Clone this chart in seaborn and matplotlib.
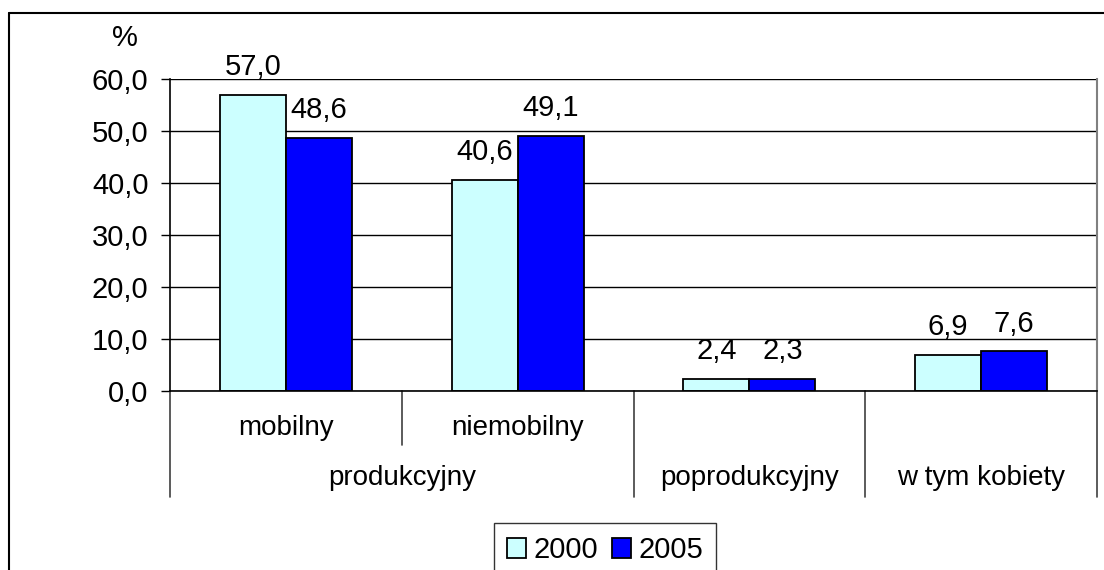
import pandas as pd
import matplotlib
matplotlib.use("Agg")
import matplotlib.pyplot as plt
import matplotlib.transforms as mtransforms
from matplotlib.lines import Line2D
from matplotlib.ticker import FuncFormatter, MultipleLocator
import seaborn as sns

# Data
categories = ["mobilny", "niemobilny", "poprodukcyjny", "w tym kobiety"]
top_labels = ["mobilny", "niemobilny", "", ""]
group_labels = ["produkcyjny", "poprodukcyjny", "w tym kobiety"]
group_spans = [(0, 1), (2, 2), (3, 3)]
years = ["2000", "2005"]
values_2000 = [57.0, 40.6, 2.4, 6.9]
values_2005 = [48.6, 49.1, 2.3, 7.6]
colors = {"2000": "#CCFFFF", "2005": "#0000FF"}

df = pd.DataFrame({
    "kategoria": categories * 2,
    "rok": ["2000"] * 4 + ["2005"] * 4,
    "wartosc": values_2000 + values_2005,
})

sns.set_theme(style="white")
plt.rcParams["font.family"] = ["Liberation Sans", "DejaVu Sans"]
plt.rcParams["text.color"] = "black"
plt.rcParams["ytick.color"] = "black"
plt.rcParams["ytick.labelcolor"] = "black"

W, H = 1104, 570
fig = plt.figure(figsize=(W / 100, H / 100), dpi=100)
ax = fig.add_axes([170 / W, 1 - 391 / H, (1097 - 170) / W, (391 - 79) / H])

sns.barplot(data=df, x="kategoria", y="wartosc", hue="rok", order=categories,
            hue_order=years, palette=colors, width=0.57, edgecolor="black",
            linewidth=1.3, saturation=1, ax=ax, legend=True)

ax.set_xlim(-0.5, 3.5)
ax.set_ylim(0, 60)
ax.yaxis.set_major_locator(MultipleLocator(10))
fmt = lambda v, pos=None: f"{v:.1f}".replace(".", ",")
ax.yaxis.set_major_formatter(FuncFormatter(fmt))
ax.tick_params(axis="y", direction="out", length=6.5, width=1, color="black",
               labelsize=21, pad=9, left=True)
ax.set_xticks([])
ax.set_xlabel("")
ax.set_ylabel("")
ax.grid(axis="y", color="black", linewidth=1)
ax.set_axisbelow(True)
for side in ["left", "bottom"]:
    ax.spines[side].set_color("black")
    ax.spines[side].set_linewidth(1.2)
ax.spines["right"].set_color("#808080")
ax.spines["right"].set_linewidth(1.5)
ax.spines["top"].set_visible(False)

for cont in ax.containers:
    ax.bar_label(cont, labels=[fmt(b.get_height()) for b in cont], padding=10,
                 fontsize=21)

# hierarchical category axis
trans = mtransforms.blended_transform_factory(ax.transData, fig.transFigure)
y_axis = 1 - 391 / H
y_short = 1 - 445 / H
y_long = 1 - 497 / H
for xb in [-0.5, 0.5, 1.5, 2.5, 3.5]:
    y_end = y_short if xb == 0.5 else y_long
    ax.add_line(Line2D([xb, xb], [y_axis, y_end], transform=trans, color="#404040",
                       linewidth=1.2, clip_on=False))
for i, lab in enumerate(top_labels):
    if lab:
        ax.text(i, 1 - 428 / H, lab, transform=trans, ha="center", va="center",
                fontsize=20)
for lab, (a, b) in zip(group_labels, group_spans):
    ax.text((a + b) / 2, 1 - 478 / H, lab, transform=trans, ha="center",
            va="center", fontsize=20)

fig.text(125 / W, 1 - 38 / H, "%", ha="center", va="center", fontsize=21)

# legend
handles, labels = ax.get_legend_handles_labels()
ax.get_legend().remove()
leg = fig.legend(handles, labels, loc="upper center", ncol=2,
                 bbox_to_anchor=(605 / W, 1 - 523 / H), frameon=True, fancybox=False,
                 fontsize=21, handlelength=0.65, handleheight=0.65, handletextpad=0.25,
                 columnspacing=0.5, borderpad=0.45, borderaxespad=0)
leg.get_frame().set_edgecolor("black")
leg.get_frame().set_linewidth(1)

# outer chart frame
fig.add_artist(Line2D([9 / W, 1.0], [1 - 13 / H, 1 - 13 / H], transform=fig.transFigure,
                      color="black", linewidth=1.5))
fig.add_artist(Line2D([9 / W, 9 / W], [1 - 13 / H, 0.0], transform=fig.transFigure,
                      color="black", linewidth=1.5))

fig.savefig("out.png", dpi=100, facecolor="white")
